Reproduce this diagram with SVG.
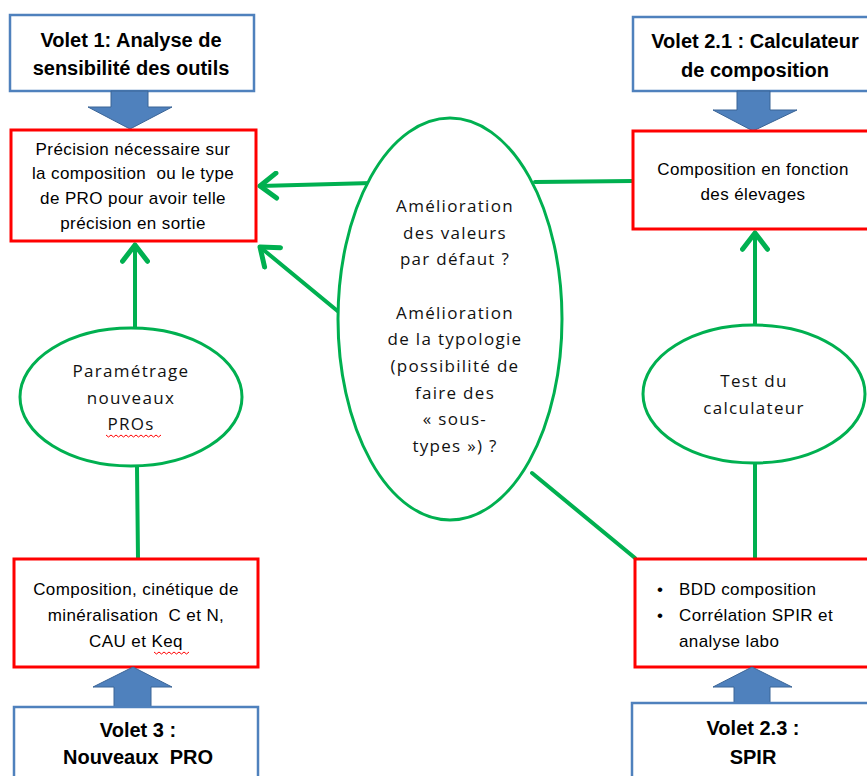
<svg xmlns="http://www.w3.org/2000/svg" width="867" height="776" viewBox="0 0 867 776">
<defs>
<style>
.blue{fill:#fff;stroke:#4F81BD;stroke-width:2.5}
.red{fill:#fff;stroke:#FF0000;stroke-width:3}
.ell{fill:#fff;stroke:#00B050;stroke-width:3}
.barrow{fill:#4F81BD;stroke:#3A6496;stroke-width:1}
.conn{stroke:#00B050;stroke-width:4;fill:none;stroke-linecap:round}
.tb{font-family:"Liberation Sans",Arial,sans-serif;font-weight:bold;font-size:20px;fill:#000;text-anchor:middle}
.tr{font-family:"Liberation Sans",Arial,sans-serif;font-size:17px;letter-spacing:0.4px;fill:#000;text-anchor:middle}
.te{font-family:"Open Sans",sans-serif;font-size:17px;letter-spacing:1.3px;fill:#111;text-anchor:middle}
.sq{fill:none;stroke:#FF0000;stroke-width:1}
</style>
<marker id="ah" markerUnits="userSpaceOnUse" markerWidth="30" markerHeight="30" viewBox="-16 -12 20 24" refX="0" refY="0" orient="auto">
<path d="M-13,-10 L0,0 L-13,10" fill="none" stroke="#00B050" stroke-width="4" stroke-linecap="round" stroke-linejoin="round"/>
</marker>
</defs>
<rect width="867" height="776" fill="#fff"/>

<g id="connectors">
<line class="conn" x1="372" y1="183" x2="260" y2="186" marker-end="url(#ah)"/>
<line class="conn" x1="340" y1="313" x2="260" y2="247" marker-end="url(#ah)"/>
<line class="conn" x1="535" y1="182" x2="633" y2="181"/>
<line class="conn" x1="532" y1="473" x2="635" y2="558"/>
<line class="conn" x1="135" y1="328" x2="135" y2="245" marker-end="url(#ah)"/>
<line class="conn" x1="137" y1="467" x2="138" y2="559"/>
<line class="conn" x1="755" y1="325" x2="755" y2="233" marker-end="url(#ah)"/>
<line class="conn" x1="755" y1="463" x2="755" y2="559"/>
</g>

<g id="volet1">
<rect class="blue" x="10" y="15" width="244" height="76"/>
<text class="tb" x="131" y="47">Volet 1: Analyse de</text>
<text class="tb" x="131" y="75">sensibilité des outils</text>
<polygon class="barrow" points="111,91 148,91 148,107 172,107 130,129 88,107 111,107"/>
</g>

<g id="precision">
<rect class="red" x="11" y="130" width="245" height="111"/>
<text class="tr" x="133" y="155">Précision nécessaire sur</text>
<text class="tr" x="133" y="179">la composition&#160; ou le type</text>
<text class="tr" x="133" y="204">de PRO pour avoir telle</text>
<text class="tr" x="133" y="229">précision en sortie</text>
</g>

<g id="volet21">
<rect class="blue" x="633" y="17" width="240" height="74"/>
<text class="tb" x="755" y="48">Volet 2.1 : Calculateur</text>
<text class="tb" x="755" y="77">de composition</text>
<polygon class="barrow" points="737,91 770,91 770,110 797,110 753,131 713,110 737,110"/>
</g>

<g id="composition-elevages">
<rect class="red" x="633" y="131" width="240" height="98"/>
<text class="tr" x="753" y="175">Composition en fonction</text>
<text class="tr" x="753" y="200">des élevages</text>
</g>

<g id="amelioration">
<ellipse class="ell" cx="450" cy="319" rx="112" ry="201"/>
<text class="te" x="455" y="212">Amélioration</text>
<text class="te" x="455" y="239">des valeurs</text>
<text class="te" x="455" y="265">par défaut ?</text>
<text class="te" x="455" y="319">Amélioration</text>
<text class="te" x="455" y="345">de la typologie</text>
<text class="te" x="455" y="372">(possibilité de</text>
<text class="te" x="455" y="399">faire des</text>
<text class="te" x="455" y="425">« sous-</text>
<text class="te" x="455" y="452">types ») ?</text>
</g>

<g id="parametrage">
<ellipse class="ell" cx="131" cy="397" rx="111" ry="69"/>
<text class="te" x="131" y="377">Paramétrage</text>
<text class="te" x="131" y="404">nouveaux</text>
<text class="te" x="131" y="430">PROs</text>
<path class="sq" d="M106,435 l2.5,2 l2.5,-2 l2.5,2 l2.5,-2 l2.5,2 l2.5,-2 l2.5,2 l2.5,-2 l2.5,2 l2.5,-2 l2.5,2 l2.5,-2 l2.5,2 l2.5,-2 l2.5,2 l2.5,-2 l2.5,2 l2.5,-2 l2.5,2 l2.5,-2 l2.5,2 l2.5,-2"/>
</g>

<g id="test-calculateur">
<ellipse class="ell" cx="754" cy="394" rx="111" ry="69"/>
<text class="te" x="754" y="387">Test du</text>
<text class="te" x="754" y="414">calculateur</text>
</g>

<g id="composition-cinetique">
<rect class="red" x="14" y="559" width="244" height="108"/>
<text class="tr" x="136" y="595">Composition, cinétique de</text>
<text class="tr" x="136" y="621">minéralisation&#160; C et N,</text>
<text class="tr" x="136" y="647">CAU et Keq</text>
<path class="sq" d="M154,652 l2.5,2 l2.5,-2 l2.5,2 l2.5,-2 l2.5,2 l2.5,-2 l2.5,2 l2.5,-2 l2.5,2 l2.5,-2 l2.5,2 l2.5,-2 l2.5,2 l2.5,-2"/>
</g>

<g id="volet3">
<polygon class="barrow" points="114,707 151,707 151,687 172,687 133,667 93,687 114,687"/>
<rect class="blue" x="14" y="707" width="244" height="90"/>
<text class="tb" x="138" y="737">Volet 3 :</text>
<text class="tb" x="138" y="764">Nouveaux&#160; PRO</text>
</g>

<g id="bdd">
<rect class="red" x="635" y="559" width="240" height="108"/>
<text class="tr" x="657" y="595" style="text-anchor:start">•</text>
<text class="tr" x="657" y="621" style="text-anchor:start">•</text>
<text class="tr" x="679" y="595" style="text-anchor:start">BDD composition</text>
<text class="tr" x="679" y="621" style="text-anchor:start">Corrélation SPIR et</text>
<text class="tr" x="679" y="647" style="text-anchor:start">analyse labo</text>
</g>

<g id="volet23">
<polygon class="barrow" points="734,703 770,703 770,687 792,687 752,667 713,687 734,687"/>
<rect class="blue" x="632" y="703" width="245" height="90"/>
<text class="tb" x="753" y="735">Volet 2.3 :</text>
<text class="tb" x="753" y="764">SPIR</text>
</g>
</svg>
